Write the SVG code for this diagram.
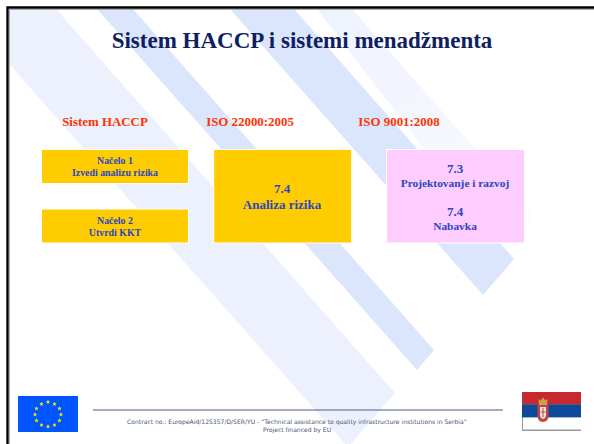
<svg xmlns="http://www.w3.org/2000/svg" width="594" height="444" viewBox="0 0 594 444">
<defs>
<polygon id="star" points="0,-2.2 0.65,-0.7 2.1,-0.7 1,0.3 1.4,1.9 0,1 -1.4,1.9 -1,0.3 -2.1,-0.7 -0.65,-0.7"/>
<linearGradient id="fade" gradientUnits="userSpaceOnUse" x1="335" y1="9" x2="520" y2="236">
<stop offset="0" stop-color="#eff3fe"/><stop offset="0.55" stop-color="#f5f7fe"/><stop offset="1" stop-color="#fdfdff"/>
</linearGradient>
</defs>
<style>
text{font-family:"Liberation Serif","Times New Roman",serif;font-weight:bold;text-anchor:middle}
.box{stroke:#fff;stroke-width:1}
.y{fill:#ffcc00}
.p{fill:#ffccff}
.h{fill:#ff3300;font-size:12.9px}
.t{fill:#2b47c0}
.s{font-size:9.9px}
.m{font-size:13px}
.f{font-family:"DejaVu Sans",Verdana,sans-serif;font-weight:normal;font-size:6.05px;fill:#4a5578}
</style>
<rect width="594" height="444" fill="#fff"/>
<g id="background">
<polygon points="352,9 536,218 505,254 317,9" fill="url(#fade)"/>
<polygon points="9,64 9,9 56,9 395,393 348,447" fill="#ecf1fd"/>
<polygon points="97,9 133,9 434,350 417,370" fill="#dbe6fd"/>
<polygon points="230,9 294,9 514,259 483,295" fill="#dbe6fd"/>
</g>
<path d="M7.5 444V7.5H594" fill="none" stroke="#000" stroke-width="2.4"/>
<path d="M9.5 444V9.5H594" fill="none" stroke="#999" stroke-width="0.8"/>
<text id="title" x="302" y="48" font-size="23" fill="#0f205f">Sistem HACCP i sistemi menadžmenta</text>
<g id="col1"><text class="h" x="105" y="126">Sistem HACCP</text></g>
<g id="col2"><text class="h" x="250" y="126">ISO 22000:2005</text></g>
<g id="col3"><text class="h" x="399" y="126">ISO 9001:2008</text></g>
<g id="n1"><rect class="box y" x="41.5" y="149.5" width="147" height="34"/>
<text class="t s" x="115" y="164">Načelo 1</text><text class="t s" x="115" y="176">Izvedi analizu rizika</text></g>
<g id="n2"><rect class="box y" x="41.5" y="209" width="147" height="34"/>
<text class="t s" x="115" y="224">Načelo 2</text><text class="t s" x="115" y="236">Utvrdi KKT</text></g>
<g id="n3"><rect class="box y" x="213.7" y="149.5" width="138" height="93.5"/>
<text class="t m" x="282" y="193">7.4</text><text class="t m" x="282" y="209">Analiza rizika</text></g>
<g id="n4"><rect class="box p" x="386.5" y="149.500" width="138" height="93.5"/>
<text class="t m" x="455" y="173">7.3</text><text class="t" font-size="11.400" x="455" y="187">Projektovanje i razvoj</text>
<text class="t m" x="455" y="216">7.4</text><text class="t" font-size="11.400" x="455" y="230">Nabavka</text></g>
<g id="eu-flag"><rect x="18" y="396" width="60" height="36" fill="#0055ff"/>
<g fill="#ffe600"><use href="#star" x="48" y="402"/><use href="#star" x="54.500" y="404"/><use href="#star" x="59.500" y="408.500"/><use href="#star" x="61" y="414.500"/><use href="#star" x="59.500" y="420.500"/><use href="#star" x="54.500" y="425"/><use href="#star" x="48" y="426.500"/><use href="#star" x="41.500" y="425"/><use href="#star" x="36.500" y="420.500"/><use href="#star" x="35" y="414.500"/><use href="#star" x="36.500" y="408.500"/><use href="#star" x="41.500" y="404"/></g></g>
<g id="footer"><line x1="93" y1="410" x2="503" y2="410" stroke="#4a5a8c" stroke-width="1.2"/>
<text class="f" x="297" y="423.500">Contract no.: EuropeAid/125357/D/SER/YU - “Technical assistance to quality infrastructure institutions in Serbia”</text>
<text class="f" x="297" y="431.500">Project financed by EU</text></g>
<g id="rs-flag"><rect x="522" y="392" width="59" height="39" fill="#999"/>
<rect x="523" y="392" width="58" height="12.500" fill="#c6292e"/><rect x="523" y="404.500" width="58" height="13" fill="#0d4a9a"/><rect x="523" y="417.500" width="58" height="12" fill="#fff"/>
<rect x="522" y="392" width="1" height="12.500" fill="#8a4a40"/><rect x="522" y="404.500" width="1" height="13" fill="#1c3f70"/>
<path d="M538.500 399l2 1.500 2.500-3 2.500 3 2-1.500-.5 6h-8z" fill="#c9a24a"/>
<path d="M537.500 405h11v11q0 5.500-5.500 6q-5.500-.5-5.500-6z" fill="#c8413c"/>
<path d="M540 407h6v8q0 3-3 4q-3-1-3-4z" fill="#e8e4e0"/><path d="M542.500 408h1v9h-1zM540.500 411.500h5v1h-5z" fill="#b94a44"/></g>
</svg>
